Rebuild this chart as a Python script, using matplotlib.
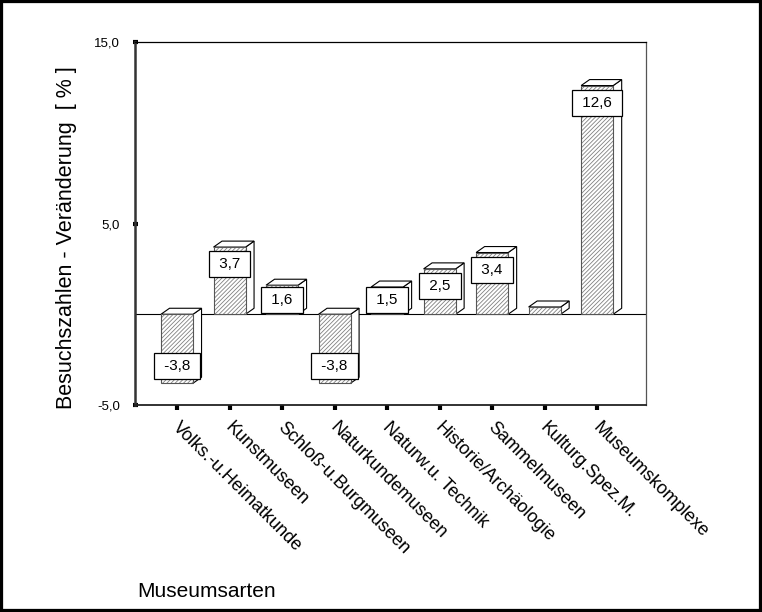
import matplotlib
matplotlib.use('Agg')
import matplotlib.pyplot as plt
from matplotlib.patches import Polygon, Rectangle
import matplotlib.transforms as mtransforms

categories = ['Volks.-u.Heimatkunde', 'Kunstmuseen', 'Schloß-u.Burgmuseen',
              'Naturkundemuseen', 'Naturw.u. Technik', 'Historie/Archäologie',
              'Sammelmuseen', 'Kulturg.Spez.M.', 'Museumskomplexe']
values = [-3.8, 3.7, 1.6, -3.8, 1.5, 2.5, 3.4, 0.4, 12.6]
show_label = [True, True, True, True, True, True, True, False, True]
yticks = [-5, 5, 15]
yticklabels = ['-5,0', '5,0', '15,0']
ylabel = 'Besuchszahlen - Veränderung  [ % ]'
xlabel = 'Museumsarten'

plt.rcParams['font.family'] = ['Liberation Sans', 'DejaVu Sans']
plt.rcParams['hatch.linewidth'] = 0.6

fig = plt.figure(figsize=(7.62, 6.12), dpi=100)
ax = fig.add_axes([135/762, 1-405/612, (646-135)/762, (405-42)/612])

ax.set_xlim(-0.8, 8.93)
ax.set_ylim(-5, 15)

ax.axhline(0, color='black', lw=0.8, zorder=1)

w = 0.61
dx = 0.162
dy = 0.33
for i, v in enumerate(values):
    x0 = i - w/2
    x1 = i + w/2
    lo, hi = min(0, v), max(0, v)
    # side face
    ax.add_patch(Polygon([(x1, lo), (x1+dx, lo+dy), (x1+dx, hi+dy), (x1, hi)],
                         closed=True, fc='white', ec='black', lw=0.8, zorder=2))
    # top face
    ax.add_patch(Polygon([(x0, hi), (x0+dx, hi+dy), (x1+dx, hi+dy), (x1, hi)],
                         closed=True, fc='white', ec='black', lw=0.8, zorder=2))
    # front face hatched
    ax.add_patch(Rectangle((x0, lo), w, hi-lo, fc='white', ec='#808080', lw=0,
                           hatch='////////', zorder=3))
    ax.add_patch(Rectangle((x0, lo), w, hi-lo, fill=False, ec='#555555', lw=0.8, zorder=3))
    if show_label[i]:
        txt = ('%.1f' % v).replace('.', ',')
        if v > 0:
            yc = max(v - 0.95, 0.8)
        else:
            yc = min(v + 0.95, -0.8)
        ax.text(i, yc, ' ' + txt + ' ', ha='center', va='center', fontsize=11,
                bbox=dict(boxstyle='square,pad=0.4', fc='white', ec='black', lw=0.9),
                zorder=5)

ax.set_yticks(yticks)
ax.set_yticklabels(yticklabels, fontsize=9.5)
ax.set_xticks(range(len(categories)))
ax.set_xticklabels(categories, rotation=-45, ha='left', va='top',
                   rotation_mode='anchor', fontsize=13)
ax.tick_params(axis='x', direction='out', length=3.6, width=3, color='black', pad=6.5)
ax.tick_params(axis='y', direction='inout', length=3.6, width=3, color='black', pad=9)
offset = mtransforms.ScaledTranslation(0.04, 0, fig.dpi_scale_trans)
for lbl in ax.get_xticklabels():
    lbl.set_transform(lbl.get_transform() + offset)

ax.spines['left'].set_color('#333333')
ax.spines['left'].set_linewidth(1.8)
ax.spines['bottom'].set_color('#222222')
ax.spines['bottom'].set_linewidth(1.3)
ax.spines['top'].set_color('black')
ax.spines['top'].set_linewidth(0.9)
ax.spines['right'].set_color('#555555')
ax.spines['right'].set_linewidth(0.9)

fig.text(66.5/762, 1-238/612, ylabel, rotation=90, ha='center', va='center', fontsize=15.5)
fig.text(137/762, 1-597/612, xlabel, ha='left', va='baseline', fontsize=15)

fig.patches.append(Rectangle((0, 0), 1, 1, transform=fig.transFigure, fill=False,
                             ec='black', lw=4.5, zorder=10))

fig.savefig('out.png', dpi=100)
